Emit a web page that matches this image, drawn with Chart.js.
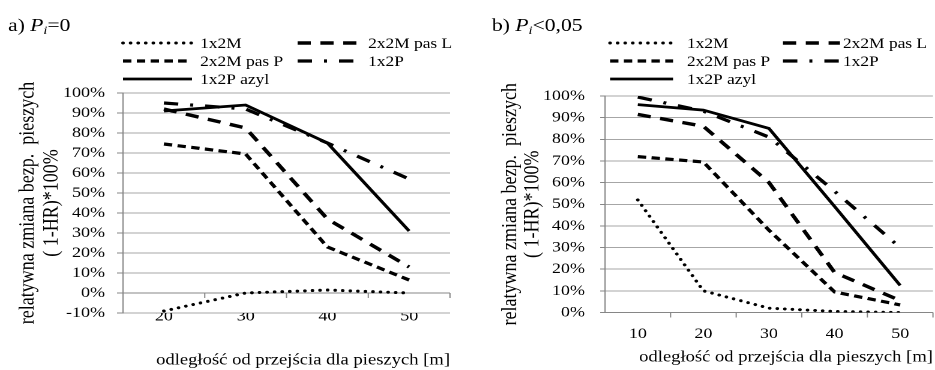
<!DOCTYPE html>
<html>
<head>
<meta charset="utf-8">
<script src="https://cdn.jsdelivr.net/npm/chart.js@4.4.1/dist/chart.umd.min.js"></script>
<style>
html, body { margin: 0; padding: 0; background: #fff; overflow: hidden; }
.wrap { position: absolute; top: 0; height: 370px; transform-origin: 0 0; transform: scaleX(1.2); }
</style>
</head>
<body>
<div class="wrap" style="left:0;width:389px"><canvas id="chartA" width="389" height="370"></canvas></div>
<div class="wrap" style="left:467px;width:390px"><canvas id="chartB" width="390" height="370"></canvas></div>
<script>
// a) Pi = 0
var catsA = ['20', '30', '40', '50'];
var a1x2M = [-9, 0, 1.5, 0];
var a2x2MpasL = [92, 82.5, 37, 13];
var a2x2MpasP = [74.5, 69.5, 23, 6.5];
var a1x2P = [95, 92, 75, 57];
var a1x2Pazyl = [91, 94, 75, 31];
var yRangeA = [-10, 100];

// b) Pi < 0,05
var catsB = ['10', '20', '30', '40', '50'];
var b1x2M = [52, 10, 2, 0.5, 0];
var b2x2MpasL = [91.5, 86, 60, 18.5, 5.5];
var b2x2MpasP = [72, 69.5, 38, 9.5, 3.5];
var b1x2P = [99.5, 93, 81, 56, 30];
var b1x2Pazyl = [96, 93.5, 85, 49, 12.5];
var yRangeB = [0, 100];

var seriesNames = ['1x2M', '2x2M pas L', '2x2M pas P', '1x2P', '1x2P azyl'];
var yTitle = ['relatywna zmiana bezp.  pieszych', '( 1-HR)*100%'];
var xTitle = 'odległość od przejścia dla pieszych [m]';

var serif = "'Liberation Serif', 'Times New Roman', serif";
var gridColor = '#a6a6a6';
var axisColor = '#868686';

var lineStyles = [
    { borderWidth: 3, borderDash: [0.01, 6.3], borderCapStyle: 'round' },
    { borderWidth: 3.4, borderDash: [11, 8], borderCapStyle: 'butt' },
    { borderWidth: 3.2, borderDash: [7, 4.5], borderCapStyle: 'butt' },
    { borderWidth: 3.2, borderDash: [12, 10, 2.5, 10], borderCapStyle: 'butt' },
    { borderWidth: 2.8, borderDash: [], borderCapStyle: 'butt' }
];

// tick marks under the 0% line, legend and panel title
var extras = {
    id: 'extras',
    beforeDatasetsDraw: function (chart) {
        var ctx = chart.ctx, x = chart.scales.x, y = chart.scales.y;
        var y0 = y.getPixelForValue(0), n = chart.data.labels.length;
        ctx.save();
        ctx.strokeStyle = axisColor;
        ctx.lineWidth = 1;
        ctx.beginPath();
        ctx.moveTo(x.left, y0);
        ctx.lineTo(x.right, y0);
        for (var i = 1; i <= n; i++) {
            var tx = x.left + i * x.width / n;
            ctx.moveTo(tx, y0);
            ctx.lineTo(tx, y0 + 5);
        }
        ctx.stroke();
        ctx.restore();
    },
    afterDraw: function (chart, args, p) {
        var ctx = chart.ctx;
        ctx.save();
        // legend, two columns
        ctx.font = '14.5px ' + serif;
        ctx.textBaseline = 'middle';
        ctx.fillStyle = '#000';
        chart.data.datasets.forEach(function (ds, i) {
            var col = i % 2, row = Math.floor(i / 2);
            var ly = p.legendRows[row];
            ctx.strokeStyle = '#000';
            ctx.lineWidth = ds.borderWidth;
            ctx.lineCap = ds.borderCapStyle;
            ctx.setLineDash(ds.borderDash);
            ctx.beginPath();
            ctx.moveTo(p.legendLineX[col], ly);
            ctx.lineTo(p.legendLineX[col] + p.legendLineLen[col], ly);
            ctx.stroke();
            ctx.setLineDash([]);
            ctx.fillText(ds.label, p.legendTextX[col], ly + 1);
        });
        // title like "a) Pi=0"
        ctx.textBaseline = 'alphabetic';
        var tx = p.titleX, ty = 31;
        ctx.font = '18px ' + serif;
        ctx.fillText(p.titleHead, tx, ty);
        tx += ctx.measureText(p.titleHead).width;
        ctx.font = 'italic 18px ' + serif;
        ctx.fillText('P', tx, ty);
        tx += ctx.measureText('P').width;
        ctx.font = 'italic 12px ' + serif;
        ctx.fillText('i', tx, ty + 3);
        tx += ctx.measureText('i').width;
        ctx.font = '18px ' + serif;
        ctx.fillText(p.titleTail, tx, ty);
        ctx.restore();
    }
};

function makeChart(id, cats, series, yRange, p) {
    var datasets = series.map(function (vals, i) {
        return Object.assign({
            label: seriesNames[i],
            data: vals,
            borderColor: '#000',
            backgroundColor: '#000',
            pointRadius: 0,
            tension: 0,
            fill: false
        }, lineStyles[i]);
    });
    return new Chart(document.getElementById(id), {
        type: 'line',
        data: { labels: cats, datasets: datasets },
        plugins: [extras],
        options: {
            responsive: false,
            devicePixelRatio: 2,
            animation: false,
            layout: { padding: { left: 0, top: p.top, right: p.right, bottom: 0 } },
            plugins: {
                legend: { display: false },
                tooltip: { enabled: false },
                extras: p
            },
            scales: {
                x: {
                    offset: true,
                    grid: { display: false, drawTicks: false, offset: true },
                    border: { display: false },
                    ticks: { color: '#000', font: { family: serif, size: 15 }, padding: p.xTickPad, maxRotation: 0 },
                    title: { display: true, text: xTitle, align: 'end', color: '#000',
                             font: { family: serif, size: 15.5 }, padding: { top: 0, bottom: p.xTitlePad } },
                    afterFit: function (s) { s.height = p.xHeight; }
                },
                y: {
                    min: yRange[0],
                    max: yRange[1],
                    ticks: { stepSize: 10, autoSkip: false, color: '#000', font: { family: serif, size: 15 }, padding: p.yTickPad,
                             callback: function (v) { return v + '%'; } },
                    grid: {
                        color: function (c) { return c.tick && c.tick.value === 0 ? axisColor : gridColor; },
                        tickColor: axisColor,
                        tickLength: p.yTickLen
                    },
                    border: { display: true, color: axisColor },
                    title: { display: true, text: yTitle, color: '#000',
                             font: { family: serif, size: 18, lineHeight: p.yTitleLH }, padding: { top: p.yTitlePad, bottom: 0 } },
                    afterFit: function (s) { s.width = p.yWidth; }
                }
            }
        }
    });
}

makeChart('chartA', catsA, [a1x2M, a2x2MpasL, a2x2MpasP, a1x2P, a1x2Pazyl], yRangeA, {
    top: 93, right: 14, yWidth: 102.5, xHeight: 57,
    yTickPad: 10, yTickLen: 5, xTickPad: -5.5, xTitlePad: 0.5,
    yTitlePad: 13.3, yTitleLH: '20px',
    legendRows: [43, 61, 79], legendLineX: [102.5, 248], legendLineLen: [57.5, 53], legendTextX: [166.7, 306.7],
    titleX: 6.7, titleHead: 'a) ', titleTail: '=0'
});

makeChart('chartB', catsB, [b1x2M, b2x2MpasL, b2x2MpasP, b1x2P, b1x2Pazyl], yRangeB, {
    top: 96, right: 1.7, yWidth: 115, xHeight: 57.5,
    yTickPad: 12.7, yTickLen: 4, xTickPad: 12.5, xTitlePad: 3.5,
    yTitlePad: 27, yTitleLH: '18.5px',
    legendRows: [43, 61, 79], legendLineX: [119.2, 263.3], legendLineLen: [52.5, 47.5], legendTextX: [183.3, 313.3],
    titleX: 20.8, titleHead: 'b) ', titleTail: '<0,05'
});
</script>
</body>
</html>
